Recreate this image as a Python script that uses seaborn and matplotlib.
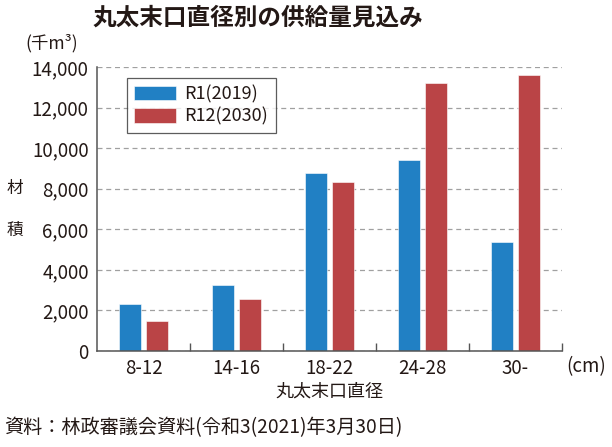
import pandas as pd
import matplotlib.pyplot as plt
import seaborn as sns
from matplotlib.ticker import FuncFormatter, FixedLocator

# Data (thousand m3)
diameters = ['8-12', '14-16', '18-22', '24-28', '30-']
r1_2019 = [2310, 3230, 8750, 9400, 5370]
r12_2030 = [1460, 2550, 8350, 13220, 13600]
series_names = ['R1(2019)', 'R12(2030)']
series_colors = ['#2180c4', '#ba4446']
yticks = [0, 2000, 4000, 6000, 8000, 10000, 12000, 14000]

TEXT = '#231815'

sns.set_theme(style='white')
plt.rcParams['font.family'] = ['Noto Sans CJK JP', 'DejaVu Sans']

df = pd.DataFrame({
    'diameter': diameters * 2,
    'volume': r1_2019 + r12_2030,
    'series': [series_names[0]] * len(diameters) + [series_names[1]] * len(diameters),
})

fig = plt.figure(figsize=(6.12, 4.47), dpi=100)
ax = fig.add_axes([97 / 612, 1 - 351 / 447, (562 - 97) / 612, (351 - 67) / 447])

sns.barplot(data=df, x='diameter', y='volume', hue='series', order=diameters,
            hue_order=series_names, palette=series_colors, width=0.6, gap=0.21,
            edgecolor='white', linewidth=0.4, saturation=1, ax=ax)

ax.set_xlim(-0.5, len(diameters) - 0.5)
ax.set_ylim(0, 14000)
ax.set_yticks(yticks)
ax.yaxis.set_major_formatter(FuncFormatter(lambda v, p: f'{int(v):,}'))
ax.yaxis.grid(True, linestyle=(0, (4, 3)), color='#a0a0a0', linewidth=0.9)
ax.set_axisbelow(True)

# group separators on the x axis
ax.xaxis.set_minor_locator(FixedLocator([i + 0.5 for i in range(len(diameters))]))
ax.tick_params(axis='x', which='major', length=0, pad=5, labelsize=13.5, labelcolor=TEXT)
ax.tick_params(axis='x', which='minor', length=6, direction='in', width=1, color='#555555', bottom=True)
ax.tick_params(axis='y', length=0, pad=6, labelsize=13.5, labelcolor=TEXT)

for side in ['top', 'right']:
    ax.spines[side].set_visible(False)
for side in ['left', 'bottom']:
    ax.spines[side].set_color('#555555')
    ax.spines[side].set_linewidth(1.1)

ax.set_xlabel('')
ax.set_ylabel('')

leg = ax.legend(loc='upper left', bbox_to_anchor=(0.064, 0.962), borderaxespad=0, fontsize=13,
                frameon=True, fancybox=False, edgecolor='#333333', handlelength=2.3,
                handleheight=0.85, borderpad=0.4, labelspacing=0.25, handletextpad=0.5)
leg.get_frame().set_linewidth(0.9)
for t in leg.get_texts():
    t.set_color(TEXT)

# texts around the plot
fig.text(258 / 612, 1 - 18 / 447, '丸太末口直径別の供給量見込み', ha='center', va='center',
         fontsize=17, fontweight='bold', color=TEXT)
fig.text(25 / 612, 1 - 43 / 447, '(千m³)', ha='left', va='center', fontsize=12.5, color=TEXT)
fig.text(15 / 612, 1 - 188 / 447, '材', ha='center', va='center', fontsize=12, color=TEXT)
fig.text(15 / 612, 1 - 230 / 447, '積', ha='center', va='center', fontsize=12, color=TEXT)
fig.text(566 / 612, 1 - 367 / 447, '(cm)', ha='left', va='center', fontsize=13.5, color=TEXT)
fig.text(329 / 612, 1 - 392 / 447, '丸太末口直径', ha='center', va='center', fontsize=13, color=TEXT)
fig.text(4 / 612, 1 - 428 / 447, '資料：林政審議会資料(令和3(2021)年3月30日)', ha='left', va='center',
         fontsize=13.8, color=TEXT)

fig.savefig('out.png', dpi=100)
